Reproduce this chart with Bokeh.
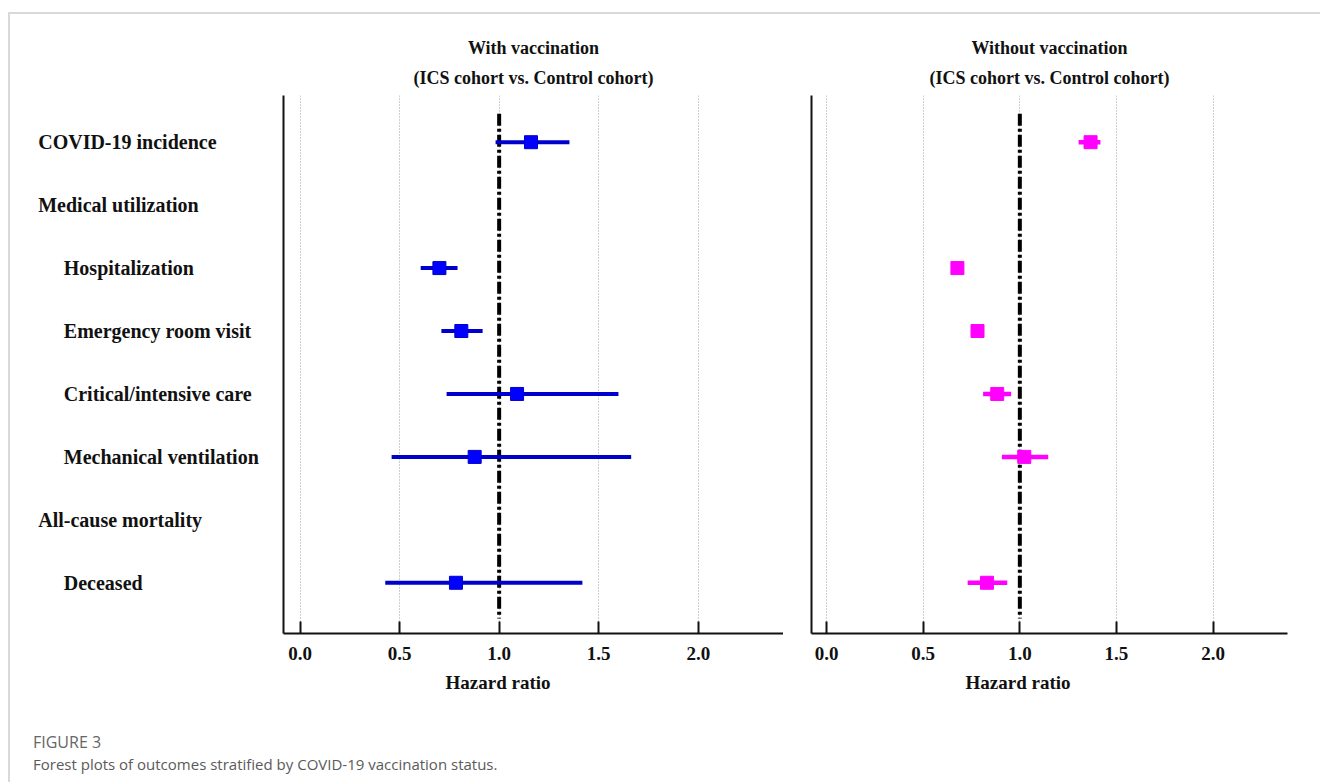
from bokeh.plotting import figure
from bokeh.layouts import column, row
from bokeh.models import Range1d, FixedTicker, PrintfTickFormatter, Title, Div
from bokeh.core.properties import value
from bokeh.embed import file_html
from bokeh.resources import INLINE

# ---------------- data ----------------
row_labels = ["COVID-19 incidence", "Medical utilization", "Hospitalization",
              "Emergency room visit", "Critical/intensive care",
              "Mechanical ventilation", "All-cause mortality", "Deceased"]
row_indent = [0, 0, 1, 1, 1, 1, 0, 1]
data_rows = [0, 2, 3, 4, 5, 7]

vac_hr = [1.16, 0.70, 0.81, 1.09, 0.877, 0.783]
vac_lo = [0.982, 0.606, 0.71, 0.736, 0.46, 0.428]
vac_hi = [1.353, 0.791, 0.917, 1.599, 1.663, 1.418]

unvac_hr = [1.366, 0.677, 0.781, 0.883, 1.023, 0.83]
unvac_lo = [1.304, 0.66, 0.765, 0.81, 0.907, 0.73]
unvac_hi = [1.417, 0.695, 0.797, 0.955, 1.147, 0.935]

x_ticks = [0.0, 0.5, 1.0, 1.5, 2.0]
ref_value = 1.0
titles = [("With vaccination", "(ICS cohort vs. Control cohort)"),
          ("Without vaccination", "(ICS cohort vs. Control cohort)")]
x_title = "Hazard ratio"
caption_head = "FIGURE 3"
caption_text = "Forest plots of outcomes stratified by COVID-19 vaccination status."

# ---------------- layout constants ----------------
SERIF = value("Liberation Serif")
FRAME_H = 538
TOP = 81
BOTTOM = 85
FIG_H = TOP + FRAME_H + BOTTOM
LBL_W = 263

y_range = Range1d(start=7.806, end=-0.742)


def panel(x_start, x_end, frame_w, left_border, right_border, hr, lo, hi,
          line_col, fill_col, lw, msize, title_pair, xlabel_offset):
    p = figure(width=left_border + frame_w + right_border, height=FIG_H,
               x_range=Range1d(x_start, x_end), y_range=y_range,
               output_backend="svg", toolbar_location=None, tools="",
               min_border_left=left_border, min_border_right=right_border,
               min_border_top=TOP, min_border_bottom=BOTTOM)
    p.outline_line_color = None
    p.ygrid.visible = False
    p.xgrid.ticker = FixedTicker(ticks=x_ticks)
    p.xgrid.grid_line_color = "#9a9a9a"
    p.xgrid.grid_line_dash = "1 2"
    p.xgrid.grid_line_width = 1

    xa = p.xaxis[0]
    xa.ticker = FixedTicker(ticks=x_ticks)
    xa.formatter = PrintfTickFormatter(format="%.1f")
    xa.major_tick_in = 12
    xa.major_tick_out = 0
    xa.minor_tick_line_color = None
    xa.major_tick_line_width = 2
    xa.axis_line_width = 2
    xa.axis_line_color = "#111111"
    xa.major_tick_line_color = "#111111"
    xa.major_label_text_font = "Liberation Serif"
    xa.major_label_text_font_style = "bold"
    xa.major_label_text_font_size = "19px"
    xa.major_label_text_color = "#111111"
    xa.major_label_standoff = 13

    ya = p.yaxis[0]
    ya.ticker = FixedTicker(ticks=[])
    ya.major_tick_in = 0
    ya.major_tick_out = 0
    ya.minor_tick_line_color = None
    ya.major_label_text_font_size = "0px"
    ya.axis_line_width = 2
    ya.axis_line_color = "#111111"

    # reference line at HR = 1
    p.segment(x0=[ref_value], y0=[-0.454], x1=[ref_value], y1=[7.568],
              line_color="black", line_width=4, line_dash="12 3 3 3")

    ys = [float(r) for r in data_rows]
    p.segment(x0=lo, y0=ys, x1=hi, y1=ys, line_color=line_col, line_width=lw)
    p.scatter(x=hr, y=ys, marker="square", size=msize,
              fill_color=fill_col, line_color=line_col, line_width=1)

    # two-line title above the frame (first added sits nearest the frame)
    p.title = None
    p.add_layout(Title(text=title_pair[1], align="center", standoff=16,
                       text_font="Liberation Serif", text_font_style="bold",
                       text_font_size="18px", text_color="#111111"), "above")
    p.add_layout(Title(text=title_pair[0], align="center", standoff=0,
                       text_font="Liberation Serif", text_font_style="bold",
                       text_font_size="18px", text_color="#111111"), "above")
    # axis title below, centred under HR = 1
    p.add_layout(Title(text=x_title, align="left", offset=xlabel_offset,
                       standoff=14,
                       text_font="Liberation Serif", text_font_style="bold",
                       text_font_size="19px", text_color="#111111"), "below")
    return p


# ---------------- label column ----------------
lab = figure(width=LBL_W, height=FIG_H, x_range=Range1d(0, LBL_W), y_range=y_range,
             output_backend="svg", toolbar_location=None, tools="",
             x_axis_location=None, y_axis_location=None,
             min_border_left=0, min_border_right=0,
             min_border_top=TOP, min_border_bottom=BOTTOM)
lab.outline_line_color = None
lab.xgrid.visible = False
lab.ygrid.visible = False
lab_x = [27.7 if ind == 0 else 53.3 for ind in row_indent]
lab.text(x=lab_x, y=list(range(len(row_labels))), text=row_labels,
         text_font=SERIF, text_font_style="bold", text_font_size="20px",
         text_color="#111111", text_align="left", text_baseline="middle")

left = panel(-0.083, 2.428, 500, 10, 0, vac_hr, vac_lo, vac_hi,
             "#0000CC", "#0000FF", 4, 13, titles[0], 162)
right = panel(-0.078, 2.385, 476, 28, 20, unvac_hr, unvac_lo, unvac_hi,
              "#FF00FF", "#FF00FF", 4.5, 13, titles[1], 154)

cap = Div(text=(
    '<div style="padding-left:18px;padding-top:8px;font-family:\'Open Sans\';">'
    '<div style="font-size:16px;color:#666666;line-height:22px;">' + caption_head + '</div>'
    '<div style="font-size:15px;color:#5a5a5a;line-height:22px;">' + caption_text + '</div>'
    '</div>'), width=1300, height=56)

layout = column(row(lab, left, right), cap,
                styles={"border-top": "2px solid #d9d9d9",
                        "border-left": "2px solid #d9d9d9",
                        "margin-top": "12px", "margin-left": "8px"})

open("out.html", "w").write(file_html(layout, INLINE))
